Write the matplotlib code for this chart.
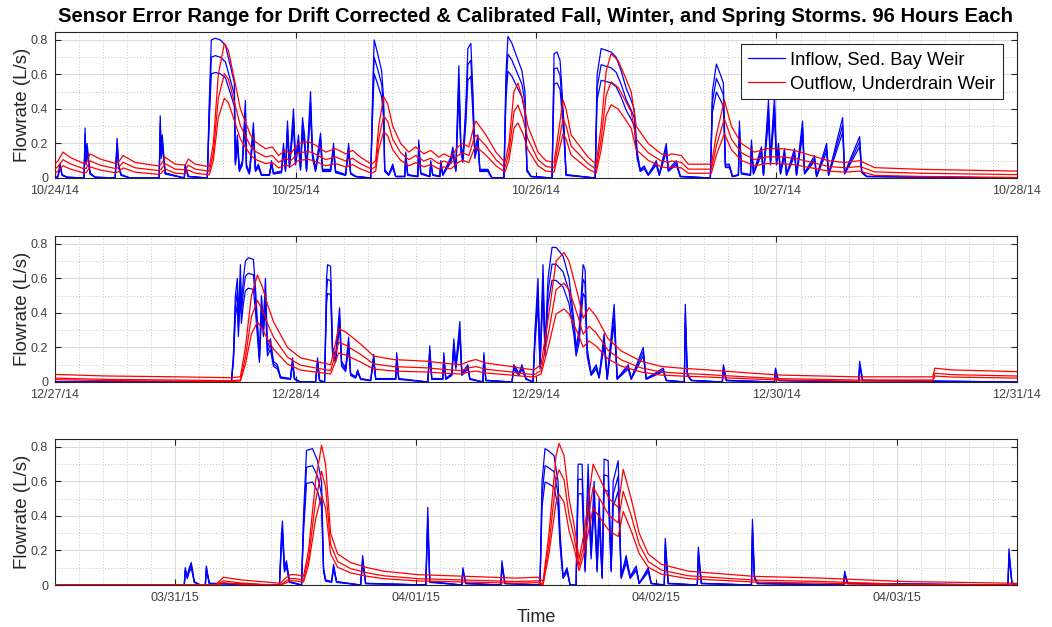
import matplotlib
matplotlib.use("Agg")
import matplotlib.pyplot as plt
from matplotlib.ticker import MultipleLocator, FixedLocator
import numpy as np

plt.rcParams['font.family'] = ['Liberation Sans', 'DejaVu Sans']

# ---------------- data (hours from panel start, flow L/s, upper-bound line) ----------------
title = "Sensor Error Range for Drift Corrected & Calibrated Fall, Winter, and Spring Storms. 96 Hours Each"
series_labels = ["Inflow, Sed. Bay Weir", "Outflow, Underdrain Weir"]

p1_ticks = [0, 24, 48, 72, 96]
p1_ticklabels = ["10/24/14", "10/25/14", "10/26/14", "10/27/14", "10/28/14"]
p2_ticks = [0, 24, 48, 72, 96]
p2_ticklabels = ["12/27/14", "12/28/14", "12/29/14", "12/30/14", "12/31/14"]
p3_ticks = [12, 36, 60, 84]
p3_ticklabels = ["03/31/15", "04/01/15", "04/02/15", "04/03/15"]

p1_inflow = [(0, 0.0), (0.3, 0.01), (0.5, 0.085), (0.7, 0.02), (1.2, 0.005), (2.9, 0.0), (3.0, 0.29),
             (3.1, 0.1), (3.2, 0.2), (3.5, 0.03), (4.0, 0.005), (6.0, 0.0), (6.2, 0.23), (6.35, 0.08),
             (6.6, 0.02), (7.5, 0.0), (10.4, 0.0), (10.5, 0.36), (10.6, 0.15), (10.7, 0.25), (11.0, 0.03),
             (12.9, 0.0), (13.0, 0.08), (13.3, 0.01), (15.2, 0.0), (15.4, 0.45), (15.6, 0.8), (16.0, 0.81),
             (16.5, 0.80), (17.0, 0.77), (17.5, 0.65), (17.9, 0.55), (18.0, 0.1), (18.2, 0.25), (18.4, 0.05),
             (18.7, 0.1), (19.0, 0.45), (19.1, 0.08), (19.4, 0.03), (19.8, 0.32), (20.0, 0.05), (20.3, 0.08),
             (20.6, 0.02), (21.4, 0.02), (21.6, 0.1), (21.8, 0.03), (22.6, 0.04), (22.8, 0.2), (23.0, 0.05),
             (23.2, 0.33), (23.4, 0.08), (23.8, 0.4), (24.0, 0.1), (24.3, 0.25), (24.5, 0.06), (24.7, 0.35),
             (24.9, 0.25), (25.1, 0.05), (25.5, 0.5), (25.7, 0.15), (26.0, 0.05), (26.5, 0.26), (26.7, 0.05),
             (27.5, 0.05), (27.8, 0.2), (28.0, 0.04), (29.0, 0.02), (29.3, 0.2), (29.5, 0.03), (30.0, 0.01),
             (31.5, 0.0), (31.7, 0.5), (31.85, 0.8), (32.2, 0.72), (32.6, 0.62), (32.8, 0.45), (32.9, 0.05),
             (33.3, 0.02), (33.7, 0.08), (34.0, 0.01), (34.9, 0.01), (35.0, 0.15), (35.2, 0.02), (36.2, 0.01),
             (36.3, 0.22), (36.5, 0.03), (37.4, 0.01), (37.5, 0.1), (37.7, 0.02), (38.4, 0.01), (38.5, 0.1),
             (38.7, 0.02), (39.5, 0.12), (39.7, 0.18), (40.0, 0.05), (40.3, 0.65), (40.5, 0.2), (40.7, 0.12),
             (41.0, 0.42), (41.2, 0.75), (41.5, 0.78), (41.7, 0.5), (41.9, 0.15), (42.2, 0.25), (42.4, 0.05),
             (43.2, 0.05), (43.6, 0.0), (44.8, 0.0), (45.0, 0.6), (45.2, 0.82), (45.6, 0.78), (46.1, 0.7),
             (46.6, 0.62), (46.9, 0.5), (47.1, 0.05), (47.5, 0.01), (49.6, 0.0), (49.8, 0.72), (50.1, 0.73),
             (50.4, 0.68), (50.6, 0.5), (50.8, 0.3), (51.0, 0.02), (53.9, 0.0), (54.1, 0.6), (54.5, 0.75),
             (55.0, 0.74), (55.5, 0.73), (56.0, 0.7), (56.5, 0.62), (57.0, 0.52), (57.5, 0.45), (57.8, 0.4),
             (58.1, 0.15), (58.4, 0.05), (58.8, 0.07), (59.2, 0.02), (60.0, 0.1), (60.3, 0.02), (61.0, 0.2),
             (61.2, 0.05), (62.0, 0.1), (62.4, 0.01), (65.4, 0.0), (65.6, 0.5), (66.0, 0.66), (66.4, 0.6),
             (66.7, 0.55), (66.9, 0.08), (67.3, 0.08), (67.6, 0.01), (68.2, 0.02), (68.3, 0.33), (68.5, 0.03),
             (69.4, 0.02), (69.5, 0.22), (69.7, 0.03), (70.5, 0.18), (70.7, 0.02), (71.2, 0.45), (71.4, 0.1),
             (71.6, 0.3), (71.8, 0.47), (72.0, 0.1), (72.2, 0.2), (72.4, 0.03), (72.8, 0.17), (73.0, 0.02),
             (73.8, 0.17), (74.0, 0.02), (74.6, 0.33), (74.8, 0.03), (75.8, 0.13), (76.0, 0.01), (77.0, 0.2),
             (77.2, 0.02), (78.6, 0.35), (78.8, 0.03), (80.3, 0.24), (80.5, 0.04), (81.0, 0.01), (96.0, 0.0)]

p1_outflow = [(0, 0.08), (0.3, 0.1), (0.8, 0.15), (1.5, 0.12), (2.8, 0.085), (3.1, 0.085), (3.5, 0.14),
              (4.5, 0.11), (6.0, 0.085), (6.3, 0.09), (6.8, 0.13), (8.0, 0.09), (10.3, 0.07), (10.6, 0.08),
              (11.0, 0.12), (12.0, 0.08), (13.0, 0.075), (13.3, 0.11), (14.0, 0.08), (15.4, 0.065),
              (15.8, 0.2), (16.3, 0.6), (16.9, 0.78), (17.3, 0.74), (17.8, 0.6), (18.5, 0.4), (19.5, 0.25),
              (20.0, 0.21), (21.0, 0.17), (21.7, 0.18), (22.3, 0.13), (23.0, 0.16), (23.5, 0.14), (24.3, 0.2),
              (25.3, 0.21), (26.0, 0.19), (27.0, 0.15), (28.0, 0.17), (29.0, 0.14), (29.7, 0.16), (30.5, 0.12),
              (31.6, 0.08), (32.0, 0.1), (32.3, 0.3), (32.8, 0.47), (33.2, 0.43), (33.7, 0.3), (34.5, 0.2),
              (35.3, 0.15), (36.0, 0.18), (36.8, 0.14), (37.5, 0.16), (38.3, 0.12), (38.8, 0.14), (39.5, 0.12),
              (40.2, 0.18), (40.7, 0.2), (41.3, 0.18), (41.8, 0.3), (42.0, 0.33), (43.0, 0.25), (44.0, 0.15),
              (44.9, 0.09), (45.3, 0.2), (45.8, 0.5), (46.2, 0.55), (46.7, 0.45), (47.2, 0.3), (48.2, 0.15),
              (49.0, 0.1), (49.8, 0.09), (50.2, 0.25), (50.7, 0.45), (51.0, 0.4), (51.5, 0.25), (53.2, 0.12),
              (54.0, 0.08), (54.5, 0.3), (55.0, 0.62), (55.5, 0.72), (56.2, 0.68), (56.8, 0.6), (57.5, 0.5),
              (58.0, 0.3), (59.2, 0.2), (60.5, 0.14), (61.2, 0.13), (61.5, 0.14), (62.5, 0.13), (63.2, 0.08),
              (65.5, 0.08), (66.0, 0.25), (66.8, 0.45), (67.5, 0.3), (68.5, 0.2), (69.8, 0.15), (71.0, 0.17),
              (72.5, 0.17), (73.8, 0.16), (75.5, 0.13), (77.2, 0.1), (78.8, 0.09), (80.3, 0.1), (81.8, 0.06),
              (86.5, 0.05), (96.0, 0.04)]

p2_inflow = [(0, 0.0), (17.6, 0.0), (17.8, 0.15), (18.0, 0.5), (18.2, 0.6), (18.3, 0.35), (18.5, 0.68),
             (18.6, 0.45), (18.8, 0.6), (19.0, 0.7), (19.3, 0.72), (19.8, 0.71), (20.0, 0.55), (20.2, 0.35),
             (20.4, 0.15), (20.6, 0.5), (20.8, 0.35), (21.0, 0.6), (21.2, 0.2), (21.5, 0.25), (21.8, 0.12),
             (22.2, 0.1), (22.5, 0.03), (23.5, 0.02), (23.7, 0.14), (23.9, 0.02), (24.5, 0.0), (26.0, 0.0),
             (26.2, 0.14), (26.4, 0.01), (26.9, 0.0), (27.1, 0.6), (27.2, 0.68), (27.5, 0.67), (27.7, 0.2),
             (28.0, 0.15), (28.4, 0.43), (28.6, 0.12), (29.0, 0.08), (29.3, 0.26), (29.5, 0.05), (30.0, 0.03),
             (30.2, 0.07), (30.5, 0.02), (31.5, 0.01), (31.8, 0.16), (32.0, 0.02), (34.0, 0.02), (34.1, 0.17),
             (34.3, 0.02), (37.2, 0.0), (37.4, 0.21), (37.6, 0.02), (38.7, 0.02), (38.8, 0.17), (39.0, 0.02),
             (39.6, 0.05), (39.8, 0.25), (40.0, 0.1), (40.4, 0.35), (40.6, 0.05), (41.2, 0.1), (41.4, 0.02),
             (42.7, 0.0), (42.8, 0.17), (43.0, 0.01), (45.6, 0.0), (45.8, 0.1), (46.3, 0.05), (46.6, 0.1),
             (47.0, 0.02), (47.7, 0.0), (47.9, 0.3), (48.2, 0.6), (48.4, 0.1), (48.7, 0.68), (48.9, 0.2),
             (49.2, 0.6), (49.6, 0.78), (50.0, 0.78), (50.7, 0.73), (51.3, 0.6), (51.8, 0.35), (52.0, 0.2),
             (52.3, 0.3), (52.7, 0.68), (52.9, 0.65), (53.1, 0.2), (53.5, 0.05), (54.0, 0.1), (54.3, 0.03),
             (54.8, 0.28), (55.1, 0.02), (55.8, 0.45), (56.1, 0.02), (57.2, 0.1), (57.5, 0.02), (58.7, 0.2),
             (59.0, 0.02), (60.7, 0.08), (61.0, 0.01), (62.8, 0.0), (62.9, 0.45), (63.1, 0.05), (63.5, 0.01),
             (66.6, 0.0), (66.7, 0.1), (67.0, 0.01), (71.8, 0.0), (71.9, 0.08), (72.2, 0.01), (80.2, 0.0),
             (80.3, 0.12), (80.6, 0.01), (96.0, 0.0)]

p2_outflow = [(0, 0.044), (5.0, 0.035), (12.0, 0.03), (17.5, 0.025), (18.5, 0.03), (19.0, 0.2), (19.6, 0.5),
              (20.2, 0.62), (20.7, 0.55), (21.2, 0.45), (21.8, 0.35), (23.2, 0.2), (24.5, 0.14), (26.0, 0.12),
              (27.5, 0.1), (27.9, 0.2), (28.3, 0.31), (29.0, 0.29), (30.5, 0.22), (31.8, 0.15), (33.8, 0.13),
              (37.2, 0.12), (38.6, 0.11), (40.5, 0.1), (41.3, 0.12), (42.0, 0.13), (43.0, 0.11), (45.5, 0.09),
              (46.5, 0.08), (47.8, 0.07), (48.5, 0.1), (49.3, 0.4), (50.0, 0.7), (50.8, 0.75), (51.3, 0.7),
              (52.2, 0.5), (52.7, 0.37), (53.3, 0.43), (54.0, 0.38), (55.2, 0.25), (56.5, 0.18), (58.5, 0.12),
              (60.5, 0.09), (62.5, 0.08), (65.2, 0.07), (69.8, 0.05), (72.5, 0.04), (80.0, 0.03), (87.6, 0.03),
              (87.8, 0.08), (89.5, 0.07), (96.0, 0.06)]

p3_inflow = [(0, 0.0), (12.9, 0.0), (13.0, 0.1), (13.2, 0.05), (13.4, 0.1), (13.6, 0.13), (13.9, 0.02),
             (14.5, 0.0), (15.0, 0.0), (15.1, 0.11), (15.4, 0.01), (22.4, 0.0), (22.6, 0.3), (22.7, 0.37),
             (22.9, 0.1), (23.1, 0.14), (23.4, 0.02), (24.6, 0.0), (24.8, 0.4), (25.1, 0.78), (25.7, 0.79),
             (26.2, 0.72), (26.6, 0.6), (26.8, 0.1), (27.0, 0.03), (27.6, 0.02), (27.8, 0.12), (28.1, 0.02),
             (30.5, 0.0), (30.7, 0.17), (31.0, 0.01), (37.0, 0.0), (37.2, 0.45), (37.4, 0.02), (40.6, 0.0),
             (40.7, 0.1), (41.0, 0.01), (44.5, 0.0), (44.6, 0.14), (44.9, 0.01), (48.4, 0.0), (48.6, 0.6),
             (48.9, 0.79), (49.2, 0.78), (49.8, 0.75), (50.2, 0.6), (50.4, 0.3), (50.7, 0.05), (51.1, 0.1),
             (51.4, 0.0), (52.0, 0.0), (52.2, 0.7), (52.6, 0.7), (52.9, 0.1), (53.2, 0.7), (53.5, 0.2),
             (53.8, 0.6), (54.1, 0.1), (54.3, 0.5), (54.6, 0.05), (54.8, 0.73), (55.2, 0.72), (55.5, 0.1),
             (55.7, 0.6), (56.2, 0.72), (56.5, 0.05), (57.0, 0.17), (57.4, 0.05), (58.0, 0.11), (58.3, 0.01),
             (59.2, 0.1), (59.5, 0.01), (60.8, 0.0), (60.9, 0.27), (61.2, 0.01), (64.1, 0.0), (64.2, 0.22),
             (64.5, 0.01), (69.5, 0.0), (69.6, 0.38), (69.8, 0.05), (70.1, 0.01), (78.7, 0.0), (78.8, 0.08),
             (79.1, 0.01), (95.1, 0.0), (95.2, 0.21), (95.5, 0.01), (96.0, 0.0)]

p3_outflow = [(0, 0.0), (16.0, 0.0), (16.8, 0.045), (18.5, 0.03), (20.5, 0.02), (22.5, 0.01), (23.0, 0.04),
              (23.5, 0.06), (24.0, 0.06), (24.8, 0.05), (25.3, 0.2), (26.0, 0.6), (26.6, 0.81), (27.0, 0.7),
              (27.5, 0.3), (28.2, 0.18), (29.5, 0.13), (31.2, 0.1), (32.8, 0.08), (36.2, 0.06), (41.2, 0.05),
              (46.0, 0.04), (48.2, 0.045), (48.7, 0.02), (49.3, 0.3), (50.0, 0.75), (50.3, 0.82), (50.8, 0.75),
              (51.3, 0.5), (51.8, 0.35), (52.3, 0.15), (52.8, 0.3), (53.7, 0.7), (54.5, 0.6), (55.3, 0.5),
              (56.2, 0.45), (56.7, 0.67), (57.5, 0.5), (58.3, 0.3), (59.2, 0.18), (60.5, 0.12), (63.2, 0.08),
              (69.8, 0.05), (76.5, 0.04), (84.8, 0.02), (96.0, 0.01)]

# sensor error band: (gain, offset) of each of the three lines relative to the upper line
inflow_band = [(1.0, 0.0), (0.875, 0.0), (0.755, 0.0)]
p1_outflow_band = [(1.0, 0.0), (0.79, 0.012), (0.62, 0.022)]
p2_outflow_band = [(1.0, 0.0), (0.78, 0.012), (0.58, 0.012)]
p3_outflow_band = [(1.0, 0.0), (0.83, 0.013), (0.66, 0.016)]

# ---------------- figure ----------------
W, H = 1052, 627
fig = plt.figure(figsize=(W / 100, H / 100), dpi=100)

panels = [
    (p1_inflow, p1_outflow, p1_outflow_band, p1_ticks, p1_ticklabels, 178),
    (p2_inflow, p2_outflow, p2_outflow_band, p2_ticks, p2_ticklabels, 382),
    (p3_inflow, p3_outflow, p3_outflow_band, p3_ticks, p3_ticklabels, 585),
]
ax_left, ax_right, ax_h = 55, 1017, 146
axes = []
for i, (inf, outf, oband, ticks, tlabels, ybot) in enumerate(panels):
    ax = fig.add_axes([ax_left / W, (H - ybot) / H, (ax_right - ax_left) / W, ax_h / H])
    axes.append(ax)
    t_in = np.array([p[0] for p in inf]); q_in = np.array([p[1] for p in inf])
    t_out = np.array([p[0] for p in outf]); q_out = np.array([p[1] for p in outf])
    for k, (g, o) in enumerate(inflow_band):
        ax.plot(t_in, np.clip(q_in * g - o, 0, None), color='#0000ff', lw=0.9,
                label=series_labels[0] if k == 0 else None, zorder=3)
    for k, (g, o) in enumerate(oband):
        ax.plot(t_out, np.clip(q_out * g - o, 0, None), color='#ff0000', lw=0.9,
                label=series_labels[1] if k == 0 else None, zorder=4)

    ax.set_xlim(0, 96)
    ax.set_ylim(0, 0.846)
    ax.set_yticks([0, 0.2, 0.4, 0.6, 0.8])
    ax.set_yticklabels(["0", "0.2", "0.4", "0.6", "0.8"])
    ax.set_xticks(ticks)
    ax.set_xticklabels(tlabels)
    minor_x = [m * 2.4 for m in range(41)]
    ax.xaxis.set_minor_locator(FixedLocator(minor_x))
    ax.yaxis.set_minor_locator(MultipleLocator(0.1))
    ax.grid(True, which='major', color='#dcdcdc', lw=0.8, ls='-', zorder=0)
    ax.grid(True, which='minor', color='#c4c4c4', lw=0.7, ls=(0, (1, 2)), zorder=0)
    ax.set_axisbelow(True)
    ax.tick_params(which='major', direction='in', length=4, width=0.8, top=True, right=True,
                   labelsize=9, labelcolor='#404040', color='#262626', pad=5)
    ax.tick_params(which='minor', length=0, top=True, right=True)
    for s in ax.spines.values():
        s.set_color('#262626')
        s.set_linewidth(0.8)
    ax.set_ylabel("Flowrate (L/s)", fontsize=13.5, color='#262626', labelpad=-0.5)

axes[0].legend(loc='upper right', bbox_to_anchor=(0.985, 0.915), fontsize=13.2, frameon=True,
               fancybox=False, edgecolor='#262626', framealpha=1, handlelength=2.0,
               handletextpad=0.3, borderpad=0.4, labelspacing=0.35, borderaxespad=0)
axes[0].get_legend().get_frame().set_linewidth(0.8)

axes[2].set_xlabel("Time", fontsize=13, color='#262626', labelpad=4)
fig.text(0.5095, 1 - 16 / H, title, ha='center', va='center', fontsize=14.6, fontweight='bold',
         color='black')

fig.savefig("out.png", dpi=100)
